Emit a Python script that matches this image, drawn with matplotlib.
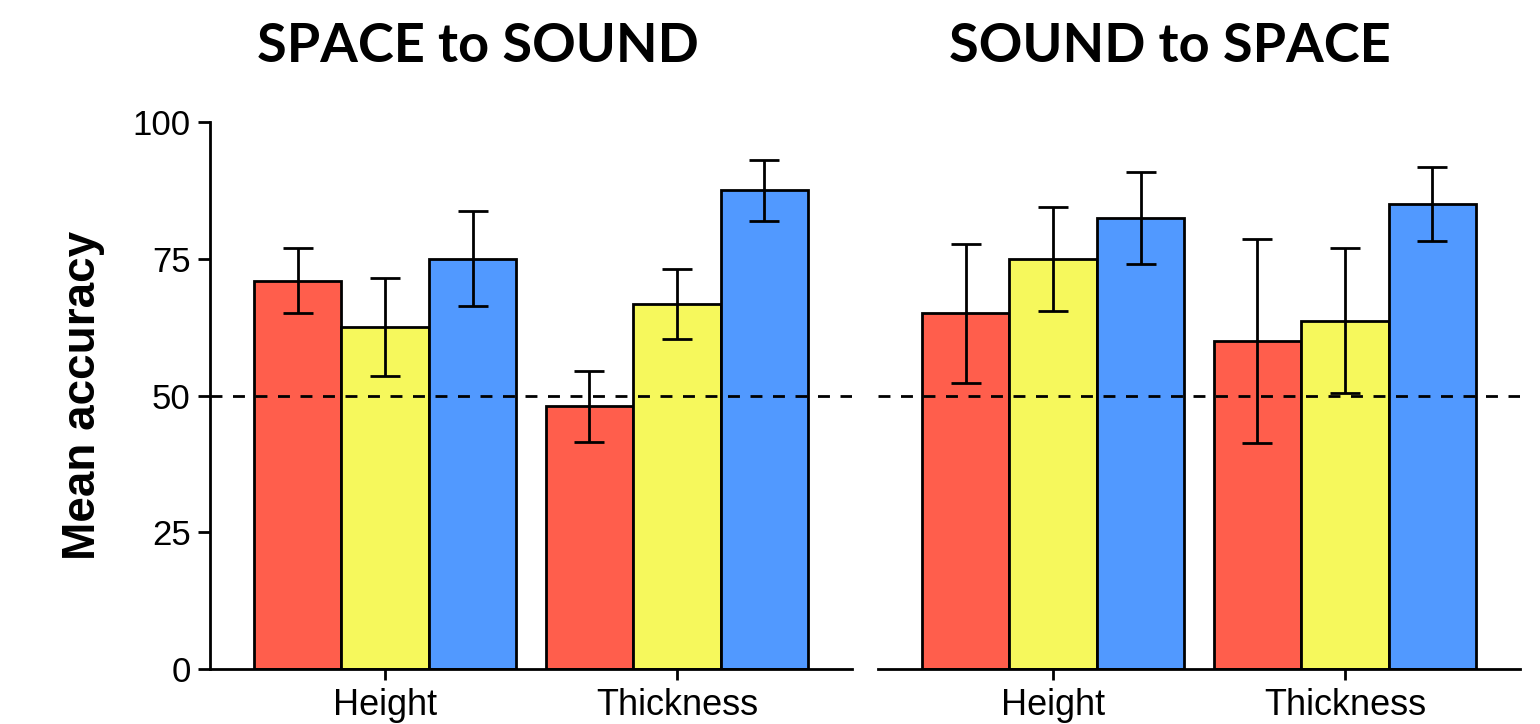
import matplotlib.pyplot as plt
import numpy as np

# data
groups = ["Height", "Thickness"]
panels = ["SPACE to SOUND", "SOUND to SPACE"]
colors = ["#FF5E4C", "#F6F85C", "#5199FF"]

# means per panel: rows = group (Height, Thickness), cols = condition (red, yellow, blue)
space_to_sound = [[71, 62.5, 75], [48, 66.7, 87.5]]
space_to_sound_err = [[6, 9, 8.7], [6.5, 6.4, 5.6]]
sound_to_space = [[65, 75, 82.5], [60, 63.7, 85]]
sound_to_space_err = [[12.7, 9.5, 8.4], [18.7, 13.3, 6.7]]

plt.rcParams['font.family'] = ['Liberation Sans', 'DejaVu Sans']

fig = plt.figure(figsize=(15.4, 7.24), dpi=100)
ax1 = fig.add_axes([210 / 1540, 1 - 669 / 724, 642 / 1540, 547 / 724])
ax2 = fig.add_axes([878 / 1540, 1 - 669 / 724, 642 / 1540, 547 / 724])

width = 0.3
lw = 2.0
x = np.arange(len(groups))

for ax, means, errs in [(ax1, space_to_sound, space_to_sound_err),
                        (ax2, sound_to_space, sound_to_space_err)]:
    means = np.array(means)
    errs = np.array(errs)
    for j in range(3):
        pos = x + (j - 1) * width
        ax.bar(pos, means[:, j], width=width, color=colors[j],
               edgecolor='black', linewidth=lw, zorder=2)
        ax.errorbar(pos, means[:, j], yerr=errs[:, j], fmt='none',
                    ecolor='black', elinewidth=lw, capsize=10.5,
                    capthick=lw, zorder=4)
    ax.axhline(50, color='black', lw=lw, linestyle=(0, (4.3, 3.8)), zorder=3)
    ax.set_xlim(-0.6, 1.6)
    ax.set_ylim(0, 100)
    ax.set_xticks(x)
    ax.set_xticklabels(groups, fontsize=26)
    ax.tick_params(axis='x', length=8, width=lw, pad=6)
    ax.spines['top'].set_visible(False)
    ax.spines['right'].set_visible(False)
    ax.spines['bottom'].set_linewidth(lw)

ax1.set_yticks([0, 25, 50, 75, 100])
ax1.tick_params(axis='y', length=9, width=lw, labelsize=25, pad=5)
ax1.spines['left'].set_linewidth(lw)
ax1.set_ylabel("Mean accuracy", fontsize=33, fontweight='bold', labelpad=20)

ax2.spines['left'].set_visible(False)
ax2.set_yticks([])

# panel titles
fig.text(478 / 1540, 1 - 47 / 724, panels[0], fontsize=39, fontweight='bold',
         family=['Lato', 'DejaVu Sans'], ha='center', va='center')
fig.text(1170 / 1540, 1 - 47 / 724, panels[1], fontsize=39, fontweight='bold',
         family=['Lato', 'DejaVu Sans'], ha='center', va='center')

plt.savefig("out.png", dpi=100)
